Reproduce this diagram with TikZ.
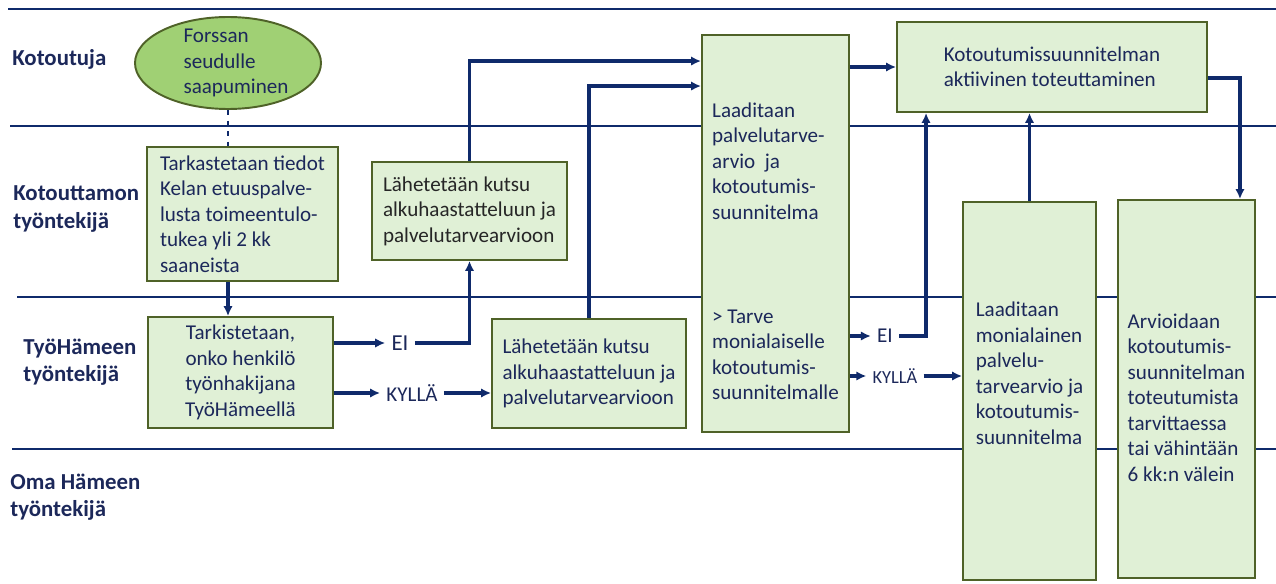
\documentclass[tikz,border=0pt]{standalone}
\usepackage{fontspec}
\setmainfont{Carlito}
\usetikzlibrary{arrows.meta,shapes.geometric}
\definecolor{lane}{HTML}{0F2A6B}
\definecolor{ink}{HTML}{1C285A}
\definecolor{boxfill}{HTML}{E0F0D6}
\definecolor{boxline}{HTML}{4F6228}
\definecolor{startfill}{HTML}{A0D074}
\def\Kotoutuja{Kotoutuja}
\def\Kotouttamo{Kotouttamon\\työntekijä}
\def\TyoHame{TyöHämeen\\työntekijä}
\def\OmaHame{Oma Hämeen\\työntekijä}
\def\Saapuminen{Forssan\\seudulle\\saapuminen}
\def\Tarkastus{Tarkastetaan tiedot\\Kelan etuuspalve-\\lusta toimeentulo-\\tukea yli 2 kk\\saaneista}
\def\Tarkistus{Tarkistetaan,\\onko henkilö\\työnhakijana\\TyöHämeellä}
\def\Kutsu{Lähetetään kutsu\\alkuhaastatteluun ja\\palvelutarvearvioon}
\def\Laadinta{\mbox{}\\[4.9mm]Laaditaan\\palvelutarve-\\arvio~ ja\\kotoutumis-\\suunnitelma\\[15.7mm]> Tarve\\monialaiselle\\kotoutumis-\\suunnitelmalle}
\def\Toteutus{Kotoutumissuunnitelman\\aktiivinen toteuttaminen}
\def\Monialainen{Laaditaan\\monialainen\\palvelu-\\tarvearvio ja\\kotoutumis-\\suunnitelma\\[2.1mm]\mbox{}}
\def\Arviointi{\mbox{}\\[1.3mm]Arvioidaan\\kotoutumis-\\suunnitelman\\toteutumista\\tarvittaessa\\tai vähintään\\6 kk:n välein}
\newcommand{\flowto}[2]{\draw[flow] (#1) -- (#2)}
\newcommand{\flowbend}[2]{\draw[flow] (#1) -| (#2)}
\newcommand{\flowrise}[2]{\draw[flow] (#1) |- (#2)}

\begin{document}
\begin{tikzpicture}[x=0.2mm, y=-0.2mm,
                    every node/.style={
                        text=ink,
                        font=\fontsize{12}{14.5}\selectfont
                    },
                    lanetitle/.style={
                        anchor=west, align=left, inner sep=0pt,
                        font=\fontsize{13}{15.5}\selectfont\bfseries
                    },
                    flowbox/.style={
                        draw=boxline, fill=boxfill, line width=1.1pt,
                        inner xsep=1mm, inner ysep=0.5mm, align=left
                    },
                    arrival/.style={
                        ellipse, draw=boxline, fill=startfill, line width=1.1pt,
                        minimum width=37.2mm, minimum height=18.4mm, inner sep=0pt
                    },
                    answer/.style={inner xsep=1.2mm, inner ysep=0.5mm},
                    lanerule/.style={draw=lane, line width=1.3pt},
                    flow/.style={draw=lane, line width=1.8pt,
                        -{Latex[length=2mm,width=1.9mm]}},
                    dashedlink/.style={draw=lane, line width=1.3pt, dashed}]
    \useasboundingbox (0,0) rectangle (1276,584);

    \draw[lanerule] (8,9) -- (1276,9);
    \draw[lanerule] (10,126) -- (1276,126);
    \draw[lanerule] (17,297) -- (1276,297);
    \draw[lanerule] (12,449) -- (1276,449);

    \node[lanetitle] (lane1) at (12,59) {\Kotoutuja};
    \node[lanetitle] (lane2) at (13,209) {\Kotouttamo};
    \node[lanetitle] (lane3) at (23,362) {\TyoHame};
    \node[lanetitle] (lane4) at (10,497) {\OmaHame};

    \node[arrival, label={[align=left, xshift=1.6mm]center:\Saapuminen}] (arrive) at (228,63) {};
    \node[flowbox, minimum width=38.2mm, minimum height=26.8mm] (check) at (242.5,214) {\Tarkastus};
    \node[flowbox, align=center, minimum width=37mm, minimum height=22.2mm] (jobseek) at (240.5,372.5) {\Tarkistus};
    \node[flowbox, text=black!85, minimum width=39mm, minimum height=19.6mm] (inviteA) at (469.5,211) {\Kutsu};
    \node[flowbox, minimum width=38.8mm, minimum height=21.8mm] (inviteB) at (589,373.5) {\Kutsu};
    \node[flowbox, minimum width=29.4mm, minimum height=79.4mm] (plan) at (775.5,233.5) {\Laadinta};
    \node[flowbox, minimum width=62mm, minimum height=18mm] (active) at (1052,67) {\Toteutus};
    \node[flowbox, minimum width=26.6mm, minimum height=75.6mm] (multi) at (1029.5,391) {\Monialainen};
    \node[flowbox, minimum width=27.4mm, minimum height=75.6mm] (review) at (1186.5,389) {\Arviointi};

    \node[answer, font=\fontsize{13}{15}\selectfont] (eiL) at (400,343) {EI};
    \node[answer] (kyllaL) at (412,393) {KYLLÄ};
    \node[answer] (eiR) at (885,336) {EI};
    \node[answer, font=\fontsize{10.5}{12}\selectfont] (kyllaR) at (895,376) {KYLLÄ};

    \draw[dashedlink] (arrive.south) -- (arrive |- check.north);
    \flowto{arrive |- check.south}{arrive |- jobseek.north};

    \flowto{jobseek.east |- eiL}{eiL.west};
    \flowbend{eiL.east}{inviteA.south};
    \flowto{jobseek.east |- kyllaL}{kyllaL.west};
    \flowto{kyllaL.east}{inviteB.west |- kyllaL};

    \flowrise{inviteA.north}{[yshift=-5.4mm]plan.north west};
    \flowrise{inviteB.north}{[yshift=-10.4mm]plan.north west};

    \flowto{plan.east |- active.west}{active.west};
    \flowto{plan.east |- eiR}{eiR.west};
    \flowbend{eiR.east}{[xshift=6mm]active.south west};
    \flowto{plan.east |- kyllaR}{kyllaR.west};
    \flowto{kyllaR.east}{multi.west |- kyllaR};

    \flowto{multi.north}{multi.north |- active.south};
    \flowbend{[yshift=-2.2mm]active.east}{[xshift=-3.2mm]review.north east};
\end{tikzpicture}
\end{document}
